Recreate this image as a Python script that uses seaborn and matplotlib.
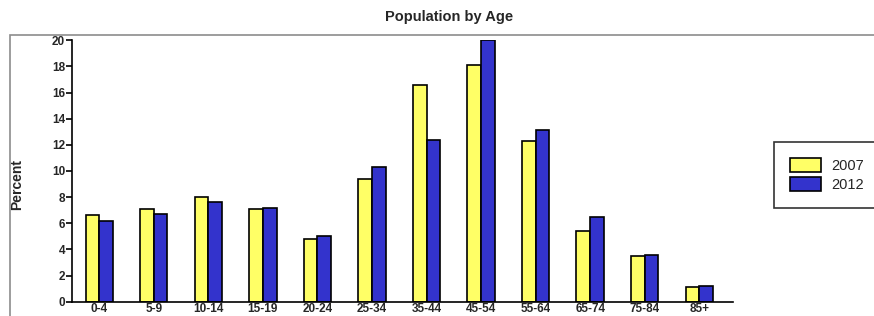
import matplotlib

matplotlib.use("Agg")
import matplotlib.pyplot as plt
import seaborn as sns
import pandas as pd
from matplotlib.patches import Rectangle

# Data
age_groups = ["0-4", "5-9", "10-14", "15-19", "20-24", "25-34",
              "35-44", "45-54", "55-64", "65-74", "75-84", "85+"]
pct_2007 = [6.6, 7.1, 8.0, 7.1, 4.8, 9.4, 16.6, 18.1, 12.3, 5.4, 3.5, 1.1]
pct_2012 = [6.2, 6.7, 7.6, 7.2, 5.0, 10.3, 12.4, 20.0, 13.1, 6.5, 3.6, 1.2]
years = ["2007", "2012"]
y_ticks = [0, 2, 4, 6, 8, 10, 12, 14, 16, 18, 20]

df = pd.DataFrame({
    "age": age_groups * 2,
    "pct": pct_2007 + pct_2012,
    "year": [years[0]] * len(age_groups) + [years[1]] * len(age_groups),
})

sns.set_style("ticks")
plt.rcParams["font.family"] = ["Liberation Sans", "DejaVu Sans"]

fig = plt.figure(figsize=(8.74, 3.16), dpi=100)
ax = fig.add_axes([0.0824, 0.0453, 0.7563, 0.8272])

# grey chart-area border, cut off at the right and bottom of the image
fig.patches.append(Rectangle((10 / 874, -0.2), 1.2, 0.2 + (316 - 35) / 316,
                             transform=fig.transFigure, fill=False,
                             edgecolor="#8c8c8c", linewidth=1.2))

sns.barplot(data=df, x="age", y="pct", hue="year", order=age_groups,
            palette=["#ffff66", "#3333cc"], saturation=1, width=0.5,
            edgecolor="black", linewidth=1.2, ax=ax)

ax.set_ylim(0, 20)
ax.set_xlim(-0.5, 11.62)
ax.set_yticks(y_ticks)
ax.set_yticklabels([str(t) for t in y_ticks], fontsize=8.5, fontweight="bold")
ax.set_xticks(range(len(age_groups)))
ax.set_xticklabels(age_groups, fontsize=8.5, fontweight="bold")
ax.tick_params(axis="x", length=0, pad=1)
ax.tick_params(axis="y", length=4, width=1.2, pad=1, color="black")
ax.set_xlabel("")
ax.set_ylabel("")
for s in ["top", "right"]:
    ax.spines[s].set_visible(False)
for s in ["left", "bottom"]:
    ax.spines[s].set_linewidth(1.2)
    ax.spines[s].set_color("black")

fig.text(449 / 874, 1 - 17 / 316, "Population by Age", ha="center",
         va="center", fontsize=10.5, fontweight="bold")
fig.text(17 / 874, 1 - 185 / 316, "Percent", ha="center", va="center",
         rotation=90, fontsize=10, fontweight="bold")

handles, labels = ax.get_legend_handles_labels()
ax.legend().remove()
leg = fig.legend(handles, labels, loc="upper left",
                 bbox_to_anchor=(774 / 874, 1 - 141.7 / 316),
                 bbox_transform=fig.transFigure, fontsize=10.5,
                 frameon=True, fancybox=False, borderpad=1.1,
                 borderaxespad=0, handlelength=2.1, handleheight=1.1,
                 labelspacing=0.27, handletextpad=0.75)
leg.get_frame().set_edgecolor("black")
leg.get_frame().set_linewidth(1.2)

fig.savefig("out.png", dpi=100)
